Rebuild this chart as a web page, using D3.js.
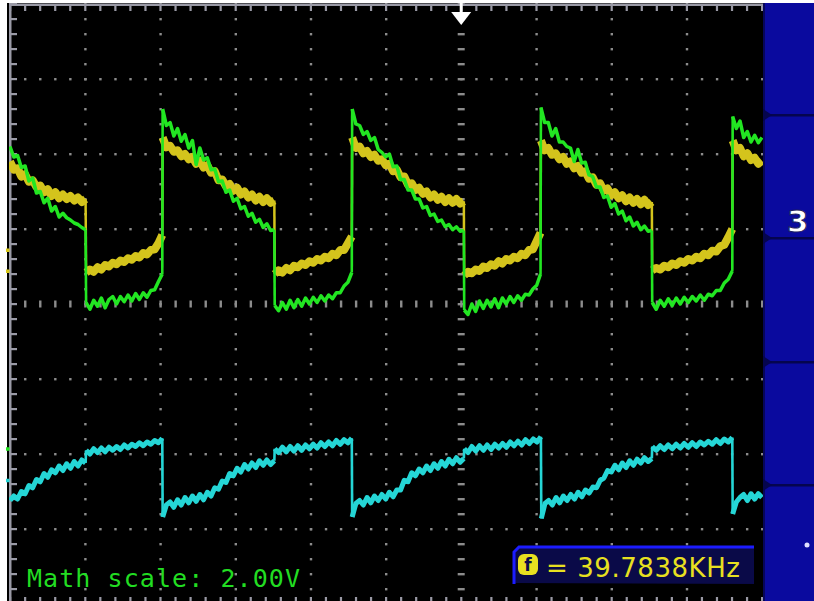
<!doctype html>
<meta charset="utf-8" />
<script src="https://cdn.jsdelivr.net/npm/d3@7/dist/d3.min.js"></script>
<style>
    body {
        margin: 0;
        background: white;
    }

    svg {
        display: block
    }
</style>
<svg id="scope"></svg>
<script>
    // time in us (10 us/div, screen shows 0..100 before the menu), level in divisions (0 = centre line)
    // each segment: samples spread evenly from t0 to t1
    var ch1 = [ // yellow
        { t0: 0, t1: 10.05, v: [1.9, 1.79, 1.81, 1.7, 1.73, 1.63, 1.65, 1.56, 1.58, 1.49, 1.53, 1.44, 1.49, 1.41, 1.46, 1.4, 1.44, 1.38, 1.42, 1.36, 1.4] },
        { t0: 10.12, t1: 20.25, v: [0.42, 0.46, 0.43, 0.49, 0.46, 0.52, 0.5, 0.55, 0.53, 0.58, 0.56, 0.61, 0.59, 0.64, 0.62, 0.68, 0.66, 0.72, 0.73, 0.81, 0.92] },
        { t0: 20.3, t1: 35.15, v: [2.22, 2.09, 2.11, 2.03, 2.05, 1.97, 2.0, 1.93, 1.96, 1.87, 1.91, 1.82, 1.85, 1.75, 1.77, 1.65, 1.66, 1.57, 1.6, 1.51, 1.55, 1.46, 1.5, 1.42, 1.46, 1.38, 1.43, 1.36, 1.41, 1.35, 1.38] },
        { t0: 35.2, t1: 45.45, v: [0.4, 0.45, 0.42, 0.48, 0.45, 0.51, 0.49, 0.54, 0.52, 0.57, 0.55, 0.6, 0.58, 0.63, 0.61, 0.67, 0.65, 0.72, 0.72, 0.81, 0.9] },
        { t0: 45.5, t1: 60.35, v: [2.22, 2.08, 2.1, 2.01, 2.04, 1.96, 1.99, 1.91, 1.93, 1.85, 1.87, 1.77, 1.79, 1.69, 1.7, 1.59, 1.61, 1.52, 1.55, 1.47, 1.5, 1.42, 1.46, 1.39, 1.43, 1.36, 1.41, 1.35, 1.4, 1.34, 1.37] },
        { t0: 60.4, t1: 70.55, v: [0.38, 0.43, 0.41, 0.46, 0.44, 0.5, 0.48, 0.53, 0.51, 0.57, 0.54, 0.6, 0.58, 0.63, 0.61, 0.67, 0.65, 0.72, 0.73, 0.84, 0.95] },
        { t0: 70.6, t1: 85.35, v: [2.18, 2.05, 2.08, 1.99, 2.01, 1.93, 1.96, 1.87, 1.9, 1.81, 1.84, 1.75, 1.77, 1.67, 1.69, 1.59, 1.61, 1.51, 1.54, 1.45, 1.49, 1.41, 1.45, 1.37, 1.42, 1.35, 1.4, 1.33, 1.39, 1.32, 1.36] },
        { t0: 85.4, t1: 96.05, v: [0.45, 0.48, 0.46, 0.51, 0.49, 0.54, 0.52, 0.57, 0.55, 0.6, 0.58, 0.63, 0.61, 0.67, 0.65, 0.71, 0.7, 0.77, 0.79, 0.89, 1.0] },
        { t0: 96.1, t1: 100, v: [2.18, 2.05, 2.08, 1.97, 2.01, 1.92, 1.95, 1.87, 1.91] }
    ];

    var ch2 = [ // green
        { t0: 0, t1: 10.05, v: [2.1, 1.96, 1.98, 1.82, 1.84, 1.64, 1.68, 1.48, 1.5, 1.35, 1.41, 1.24, 1.3, 1.16, 1.21, 1.15, 1.12, 1.08, 1.06, 1.02, 0.99] },
        { t0: 10.12, t1: 20.25, v: [0.02, -0.07, 0.05, -0.03, 0.08, -0.05, 0.06, 0.1, 0.0, 0.1, 0.03, 0.12, 0.04, 0.14, 0.06, 0.15, 0.09, 0.18, 0.19, 0.3, 0.4] },
        { t0: 20.3, t1: 35.15, v: [2.6, 2.38, 2.42, 2.24, 2.34, 2.17, 2.26, 2.08, 2.18, 1.86, 2.08, 1.92, 1.95, 1.79, 1.8, 1.63, 1.64, 1.49, 1.52, 1.37, 1.41, 1.27, 1.3, 1.17, 1.21, 1.09, 1.13, 1.02, 1.07, 0.98, 0.99] },
        { t0: 35.2, t1: 45.45, v: [-0.02, -0.09, 0.02, -0.07, 0.05, -0.05, 0.06, -0.03, 0.08, 0.0, 0.09, 0.02, 0.11, 0.04, 0.12, 0.07, 0.15, 0.15, 0.24, 0.29, 0.42] },
        { t0: 45.5, t1: 60.35, v: [2.6, 2.4, 2.38, 2.26, 2.3, 2.18, 2.22, 2.06, 2.02, 1.96, 2.0, 1.83, 1.84, 1.66, 1.66, 1.52, 1.52, 1.4, 1.4, 1.28, 1.3, 1.18, 1.2, 1.1, 1.12, 1.03, 1.06, 0.99, 1.03, 0.97, 0.98] },
        { t0: 60.4, t1: 70.55, v: [-0.08, -0.14, 0.0, -0.1, 0.04, -0.06, 0.05, -0.04, 0.07, -0.05, 0.08, 0.0, 0.1, 0.02, 0.11, 0.05, 0.13, 0.12, 0.2, 0.25, 0.4] },
        { t0: 70.6, t1: 85.35, v: [2.62, 2.42, 2.42, 2.24, 2.34, 2.16, 2.16, 2.1, 2.08, 1.9, 2.06, 1.88, 1.89, 1.72, 1.7, 1.56, 1.56, 1.42, 1.44, 1.29, 1.34, 1.2, 1.24, 1.11, 1.16, 1.04, 1.09, 0.99, 1.04, 0.97, 0.98] },
        { t0: 85.4, t1: 96.05, v: [0.02, -0.07, 0.05, -0.03, 0.07, -0.02, 0.08, 0.0, 0.09, 0.02, 0.1, 0.04, 0.12, 0.05, 0.13, 0.11, 0.18, 0.18, 0.28, 0.33, 0.44] },
        { t0: 96.1, t1: 100, v: [2.5, 2.34, 2.44, 2.22, 2.3, 2.16, 2.25, 2.15, 2.22] }
    ];

    var math = [ // cyan
        { t0: 0, t1: 10.05, v: [-2.62, -2.56, -2.6, -2.5, -2.53, -2.42, -2.45, -2.34, -2.37, -2.26, -2.31, -2.21, -2.25, -2.16, -2.22, -2.13, -2.19, -2.1, -2.16, -2.08, -2.12] },
        { t0: 10.12, t1: 20.25, v: [-1.95, -2.0, -1.93, -1.98, -1.92, -1.97, -1.91, -1.95, -1.9, -1.94, -1.88, -1.92, -1.87, -1.9, -1.85, -1.89, -1.84, -1.87, -1.82, -1.85, -1.79] },
        { t0: 20.3, t1: 35.15, v: [-2.84, -2.68, -2.64, -2.71, -2.61, -2.68, -2.58, -2.65, -2.56, -2.63, -2.54, -2.61, -2.51, -2.56, -2.45, -2.47, -2.36, -2.38, -2.26, -2.29, -2.19, -2.24, -2.14, -2.2, -2.12, -2.18, -2.09, -2.15, -2.08, -2.14, -2.09] },
        { t0: 35.2, t1: 45.45, v: [-1.93, -1.98, -1.91, -1.97, -1.9, -1.96, -1.89, -1.95, -1.88, -1.93, -1.87, -1.92, -1.85, -1.9, -1.84, -1.89, -1.82, -1.87, -1.81, -1.85, -1.79] },
        { t0: 45.5, t1: 60.35, v: [-2.84, -2.66, -2.62, -2.68, -2.58, -2.65, -2.56, -2.62, -2.54, -2.6, -2.51, -2.57, -2.48, -2.48, -2.35, -2.37, -2.25, -2.29, -2.2, -2.25, -2.16, -2.22, -2.13, -2.19, -2.1, -2.16, -2.07, -2.13, -2.05, -2.11, -2.06] },
        { t0: 60.4, t1: 70.6, v: [-1.93, -1.98, -1.9, -1.96, -1.89, -1.95, -1.88, -1.94, -1.87, -1.92, -1.86, -1.91, -1.84, -1.89, -1.83, -1.88, -1.81, -1.86, -1.8, -1.84, -1.77] },
        { t0: 70.65, t1: 85.35, v: [-2.86, -2.66, -2.62, -2.68, -2.58, -2.65, -2.56, -2.62, -2.54, -2.6, -2.51, -2.57, -2.48, -2.52, -2.44, -2.45, -2.35, -2.32, -2.22, -2.24, -2.15, -2.21, -2.12, -2.18, -2.09, -2.15, -2.07, -2.12, -2.05, -2.1, -2.06] },
        { t0: 85.4, t1: 96.05, v: [-1.9, -1.95, -1.89, -1.94, -1.88, -1.93, -1.87, -1.92, -1.86, -1.91, -1.85, -1.9, -1.84, -1.88, -1.83, -1.87, -1.81, -1.86, -1.8, -1.84, -1.78] },
        { t0: 96.1, t1: 100, v: [-2.8, -2.64, -2.58, -2.54, -2.62, -2.53, -2.6, -2.53, -2.58] }
    ];

    // ground markers on the left edge (divisions)
    var markers = [
        { v: 0.72, c: '#d8c818' }, { v: 0.44, c: '#d8c818' },
        { v: -1.93, c: '#22e622' }, { v: -2.35, c: '#22d4d4' }
    ];

    var mathLabel = 'Math scale: 2.00V';
    var freqLabel = '= 39.7838KHz';
    var panelLabel = '3';
    var panelSplits = [115, 238, 362, 485];
    var centreT = 60; // trigger / centre graticule line

    var W = 814, H = 601;
    var svg = d3.select('svg#scope')
        .attr('width', W)
        .attr('height', H);

    var x = d3.scaleLinear().domain([0, 100]).range([10, 762]);
    var y = d3.scaleLinear().domain([-4, 4]).range([604, 4]);

    svg.append('rect').attr('width', W).attr('height', H).attr('fill', 'white');
    svg.append('rect')
        .attr('x', 7).attr('y', 3)
        .attr('width', 760).attr('height', H)
        .attr('fill', 'black');

    // graticule
    var grid = svg.append('g').attr('fill', '#8c8c8c');
    var minorT = d3.range(0, 100.1, 2);
    var minorV = d3.range(-4, 4.01, 0.2);
    d3.range(10, 100, 10).forEach(function (t) {
        var c = t == centreT;
        grid.selectAll(null)
            .data(minorV)
            .enter()
            .append('rect')
            .attr('x', c ? x(t) - 3.5 : x(t) - 1)
            .attr('y', d => y(d) - 1)
            .attr('width', c ? 7 : 2.4)
            .attr('height', 2.4);
    });
    d3.range(-3, 4, 1).forEach(function (v) {
        grid.selectAll(null)
            .data(minorT)
            .enter()
            .append('rect')
            .attr('x', d => x(d) - 1)
            .attr('y', v == 0 ? y(v) - 3.5 : y(v) - 1)
            .attr('width', 2.4)
            .attr('height', v == 0 ? 7 : 2.4);
    });

    // border with ticks
    var border = svg.append('g').attr('fill', '#9a9aa6');
    border.append('rect').attr('x', 9).attr('y', 3.5).attr('width', 754).attr('height', 2.5);
    border.append('rect').attr('x', 9).attr('y', 3.5).attr('width', 2.5).attr('height', H);
    border.selectAll(null)
        .data(minorT)
        .enter()
        .append('rect')
        .attr('x', d => x(d) - 1)
        .attr('y', 4)
        .attr('width', 2.2)
        .attr('height', 7);
    border.selectAll(null)
        .data(minorT)
        .enter()
        .append('rect')
        .attr('x', d => x(d) - 1)
        .attr('y', 597)
        .attr('width', 2.2)
        .attr('height', 7);
    border.selectAll(null)
        .data(minorV)
        .enter()
        .append('rect')
        .attr('x', 9)
        .attr('y', d => y(d) - 1)
        .attr('width', 8)
        .attr('height', 2.2);

    // traces: thick noisy runs, thin fast edges between them
    function points(s) {
        return s.v.map((v, i) => ({
            t: s.t0 + i * (s.t1 - s.t0) / (s.v.length - 1),
            v: v
        }));
    }
    var line = d3.line()
        .x(d => x(d.t))
        .y(d => y(d.v));

    svg.append('clipPath').attr('id', 'screen')
        .append('rect').attr('x', 9).attr('y', 4).attr('width', 754).attr('height', 600);
    var traces = svg.append('g').attr('clip-path', 'url(#screen)')
        .attr('fill', 'none')
        .attr('stroke-linejoin', 'round');

    function drawTrace(segs, colour, runWidth, edgeWidth) {
        var runs = segs.map(points);
        var edges = d3.pairs(runs).map(p => [p[0][p[0].length - 1], p[1][0]]);
        var g = traces.append('g').attr('stroke', colour);
        g.selectAll(null)
            .data(edges)
            .enter()
            .append('path')
            .attr('d', line)
            .attr('stroke-width', edgeWidth);
        g.selectAll(null)
            .data(runs)
            .enter()
            .append('path')
            .attr('d', line)
            .attr('stroke-width', runWidth);
    }
    drawTrace(ch1, '#d4c41c', 8, 2.5);
    drawTrace(ch2, '#22e622', 3.5, 2.6);
    drawTrace(math, '#25d6d6', 5, 2.6);

    svg.selectAll(null)
        .data(markers)
        .enter()
        .append('rect')
        .attr('x', 6)
        .attr('y', d => y(d.v) - 1.5)
        .attr('width', 3.5)
        .attr('height', 3.5)
        .attr('fill', d => d.c);

    // trigger position arrow
    var tx = x(centreT);
    svg.append('rect').attr('x', tx - 1.5).attr('y', 0).attr('width', 3).attr('height', 15).attr('fill', 'white');
    svg.append('path')
        .attr('d', 'M' + (tx - 10) + ',12L' + (tx + 10) + ',12L' + tx + ',25Z')
        .attr('fill', 'white');

    // right menu panel
    svg.append('rect')
        .attr('x', 763).attr('y', 3)
        .attr('width', W - 763).attr('height', H)
        .attr('fill', '#0a0a9e');
    svg.append('rect')
        .attr('x', 763).attr('y', 3)
        .attr('width', 2).attr('height', H)
        .attr('fill', '#06065a');
    panelSplits.forEach(function (py) {
        svg.append('rect')
            .attr('x', 765).attr('y', py - 1)
            .attr('width', W - 765).attr('height', 2.5)
            .attr('fill', '#05054e');
        svg.append('path')
            .attr('d', 'M763,' + (py - 6) + 'L772,' + py + 'L763,' + (py + 6) + 'Z')
            .attr('fill', '#05054e');
    });
    svg.append('text')
        .attr('x', 787).attr('y', 232)
        .attr('font-family', 'DejaVu Sans')
        .attr('font-weight', 'bold')
        .attr('font-size', 31)
        .attr('fill', 'white')
        .attr('stroke', '#202060')
        .attr('stroke-width', 1)
        .text(panelLabel);
    svg.append('circle').attr('cx', 807).attr('cy', 545).attr('r', 2.5).attr('fill', '#e0e0ff');

    // math scale readout
    svg.append('text')
        .attr('x', 27).attr('y', 587)
        .attr('font-family', 'DejaVu Sans Mono')
        .attr('font-size', 25)
        .attr('fill', '#22dd22')
        .attr('textLength', 273)
        .text(mathLabel);

    // frequency readout box
    var fb = svg.append('g');
    fb.append('path')
        .attr('d', 'M513,583L513,552L519,546L754,546L754,584Z')
        .attr('fill', '#0a0a48');
    fb.append('path')
        .attr('d', 'M514,584L514,552L519,547L754,547')
        .attr('fill', 'none')
        .attr('stroke', '#1c1cff')
        .attr('stroke-width', 3);
    fb.append('rect')
        .attr('x', 518).attr('y', 554)
        .attr('width', 20).attr('height', 21)
        .attr('rx', 6)
        .attr('fill', '#e8e020');
    fb.append('text')
        .attr('x', 528).attr('y', 571)
        .attr('text-anchor', 'middle')
        .attr('font-family', 'DejaVu Sans')
        .attr('font-weight', 'bold')
        .attr('font-size', 17)
        .attr('fill', '#0a0a48')
        .text('f');
    fb.append('text')
        .attr('x', 546).attr('y', 577)
        .attr('font-family', 'DejaVu Sans')
        .attr('font-size', 26)
        .attr('fill', '#e8e020')
        .attr('textLength', 194)
        .text(freqLabel);
</script>
